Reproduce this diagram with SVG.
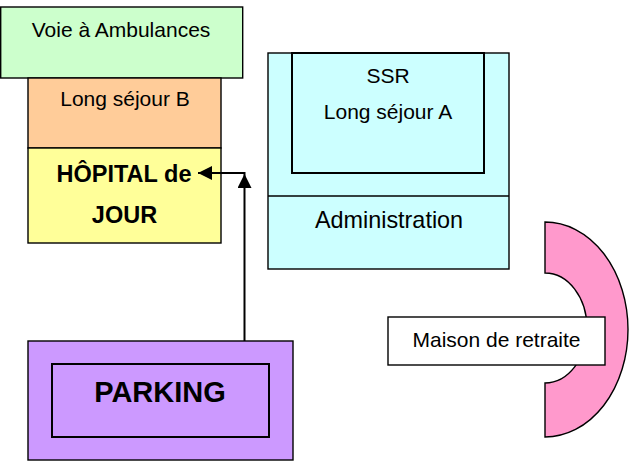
<svg xmlns="http://www.w3.org/2000/svg" width="629" height="462" viewBox="0 0 629 462">
<style>
.b{stroke:#000;stroke-width:1.4}
.t{font-family:"Liberation Sans",Arial,sans-serif;font-size:21px;fill:#000;text-anchor:middle}
.bd{font-weight:bold;font-size:23.5px}
.adm{font-size:23.4px}
.pk{font-weight:bold;font-size:29px}
.ln{stroke:#000;stroke-width:2;fill:none}
</style>
<defs>
<marker id="ah" viewBox="0 0 10 10" refX="10" refY="5" markerWidth="7.5" markerHeight="7" markerUnits="strokeWidth" orient="auto">
<path d="M0,0 L10,5 L0,10 Z" fill="#000"/>
</marker>
</defs>
<rect width="629" height="462" fill="#fff"/>
<g id="voie">
<rect class="b" x="0.7" y="7" width="242" height="71" fill="#CCFFCC"/>
<text class="t" x="121" y="37">Voie à Ambulances</text>
</g>
<g id="longsejourB">
<rect class="b" x="28" y="78" width="193" height="70" fill="#FFCC99"/>
<text class="t" x="125" y="106">Long séjour B</text>
</g>
<g id="hopital">
<rect class="b" x="28" y="148" width="193" height="95" fill="#FFFF99"/>
<text class="t bd" x="124" y="182">HÔPITAL de</text>
<text class="t bd" x="124.5" y="223">JOUR</text>
</g>
<g id="batiment">
<rect class="b" x="268" y="53" width="241" height="216" fill="#CCFFFF"/>
<line class="b" x1="268" y1="196" x2="509" y2="196"/>
<text class="t adm" x="389" y="228">Administration</text>
</g>
<g id="ssr">
<rect x="292" y="53" width="192" height="120" fill="#CCFFFF" stroke="#000" stroke-width="2"/>
<text class="t" x="388" y="83">SSR</text>
<text class="t" x="388" y="119">Long séjour A</text>
</g>
<g id="maison">
<path class="b" d="M545,222 A83,107.5 0 0 1 545,437 L545,383 A42,55 0 0 0 545,273 Z" fill="#FF99CC"/>
<rect class="b" x="388" y="317" width="217" height="48" fill="#fff"/>
<text class="t" x="496.5" y="347">Maison de retraite</text>
</g>
<g id="parking">
<rect class="b" x="28" y="341" width="265" height="119" fill="#CC99FF"/>
<rect x="52" y="364" width="217" height="73" fill="#CC99FF" stroke="#000" stroke-width="2"/>
<text class="t pk" x="160" y="402">PARKING</text>
</g>
<g id="connectors">
<line class="ln" x1="244.5" y1="341" x2="244.5" y2="174" marker-end="url(#ah)"/>
<line class="ln" x1="245.5" y1="173" x2="198" y2="173" marker-end="url(#ah)"/>
</g>
</svg>
